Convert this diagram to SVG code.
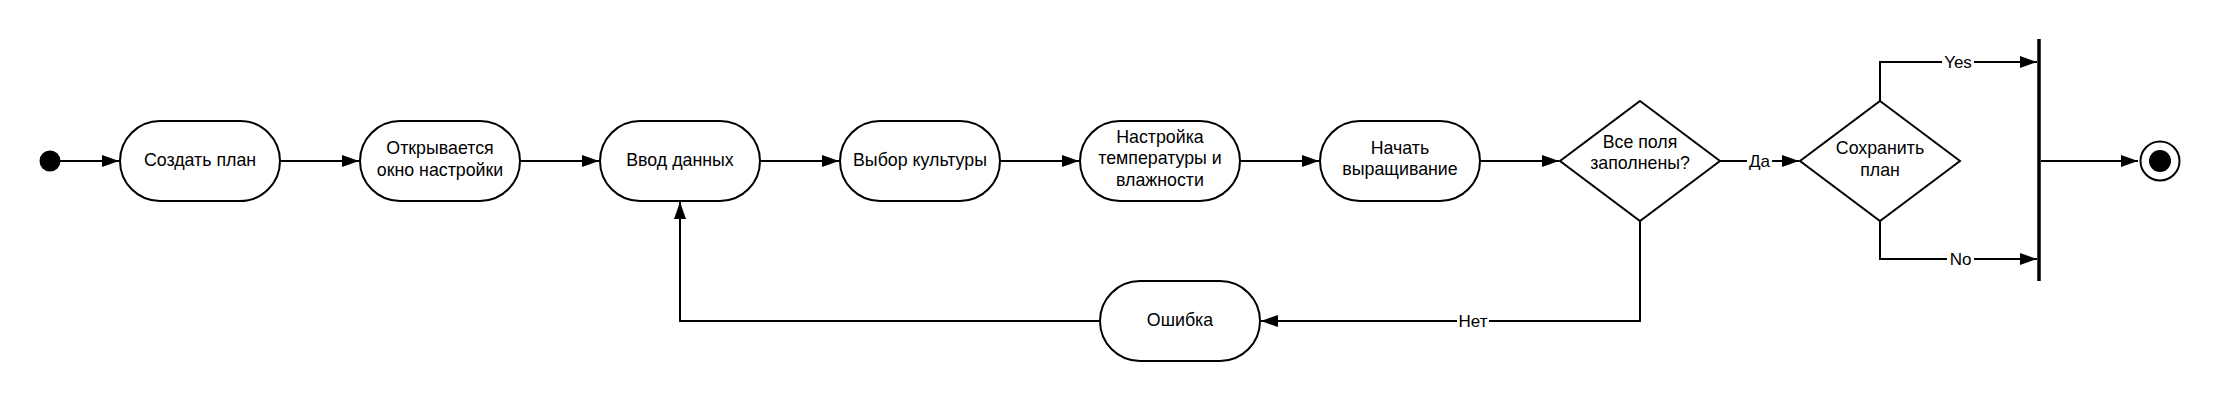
<svg xmlns="http://www.w3.org/2000/svg" width="2220" height="401" viewBox="0 0 2220 401">
<style>
.node{fill:#fff;stroke:#000;stroke-width:2}
.t{font-family:"Liberation Sans",Arial,sans-serif;font-size:17.8px;fill:#000;text-anchor:middle}
.lbl{font-family:"Liberation Sans",Arial,sans-serif;font-size:17px;fill:#000;text-anchor:middle}
.edge{fill:none;stroke:#000;stroke-width:2}
.bg{fill:#fff}
</style>
<defs>
<marker id="arr" markerUnits="userSpaceOnUse" markerWidth="17" markerHeight="12" refX="17" refY="6" orient="auto">
<path d="M0,0 L17,6 L0,12 z" fill="#000"/>
</marker>
</defs>
<rect width="2220" height="401" fill="#fff"/>
<g id="connectors">
<path class="edge" d="M60,161 H119" marker-end="url(#arr)"/>
<path class="edge" d="M280,161 H359" marker-end="url(#arr)"/>
<path class="edge" d="M520,161 H599" marker-end="url(#arr)"/>
<path class="edge" d="M760,161 H839" marker-end="url(#arr)"/>
<path class="edge" d="M1000,161 H1079" marker-end="url(#arr)"/>
<path class="edge" d="M1240,161 H1319" marker-end="url(#arr)"/>
<path class="edge" d="M1480,161 H1559" marker-end="url(#arr)"/>
<path class="edge" d="M1720,161 H1799" marker-end="url(#arr)"/>
<rect class="bg" x="1747" y="151" width="25" height="20"/>
<text class="lbl" x="1759.5" y="167">Да</text>
<path class="edge" d="M1880,101 V62 H2037" marker-end="url(#arr)"/>
<rect class="bg" x="1942" y="52" width="32" height="20"/>
<text class="lbl" x="1958" y="68">Yes</text>
<path class="edge" d="M1880,221 V259 H2037" marker-end="url(#arr)"/>
<rect class="bg" x="1947" y="249" width="27" height="20"/>
<text class="lbl" x="1960.5" y="265">No</text>
<path class="edge" d="M2041,161 H2138" marker-end="url(#arr)"/>
<path class="edge" d="M1640,221 V321 H1261" marker-end="url(#arr)"/>
<rect class="bg" x="1457" y="311" width="32" height="20"/>
<text class="lbl" x="1473" y="327">Нет</text>
<path class="edge" d="M1100,321 H680 V202" marker-end="url(#arr)"/>
</g>
<g id="start"><circle cx="50" cy="161" r="10.5" fill="#000"/></g>
<g id="n1"><rect class="node" x="120" y="121" width="160" height="80" rx="40" ry="40"/><text class="t" x="200" y="165.5">Создать план</text></g>
<g id="n2"><rect class="node" x="360" y="121" width="160" height="80" rx="40" ry="40"/><text class="t" x="440" y="154">Открывается</text><text class="t" x="440" y="175.5">окно настройки</text></g>
<g id="n3"><rect class="node" x="600" y="121" width="160" height="80" rx="40" ry="40"/><text class="t" x="680" y="165.5">Ввод данных</text></g>
<g id="n4"><rect class="node" x="840" y="121" width="160" height="80" rx="40" ry="40"/><text class="t" x="920" y="165.5">Выбор культуры</text></g>
<g id="n5"><rect class="node" x="1080" y="121" width="160" height="80" rx="40" ry="40"/><text class="t" x="1160" y="142.5">Настройка</text><text class="t" x="1160" y="164">температуры и</text><text class="t" x="1160" y="185.5">влажности</text></g>
<g id="n6"><rect class="node" x="1320" y="121" width="160" height="80" rx="40" ry="40"/><text class="t" x="1400" y="153.5">Начать</text><text class="t" x="1400" y="175">выращивание</text></g>
<g id="d1"><path class="node" d="M1640,101 L1720,161 L1640,221 L1560,161 z"/><text class="t" x="1640" y="147.5">Все поля</text><text class="t" x="1640" y="169">заполнены?</text></g>
<g id="d2"><path class="node" d="M1880,101 L1960,161 L1880,221 L1800,161 z"/><text class="t" x="1880" y="154">Сохранить</text><text class="t" x="1880" y="175.5">план</text></g>
<g id="err"><rect class="node" x="1100" y="281" width="160" height="80" rx="40" ry="40"/><text class="t" x="1180" y="325.5">Ошибка</text></g>
<g id="bar"><line x1="2039" y1="39" x2="2039" y2="281" stroke="#000" stroke-width="3.5"/></g>
<g id="end"><circle cx="2160" cy="161" r="19.5" fill="#fff" stroke="#000" stroke-width="2"/><circle cx="2160" cy="161" r="11" fill="#000"/></g>
</svg>
